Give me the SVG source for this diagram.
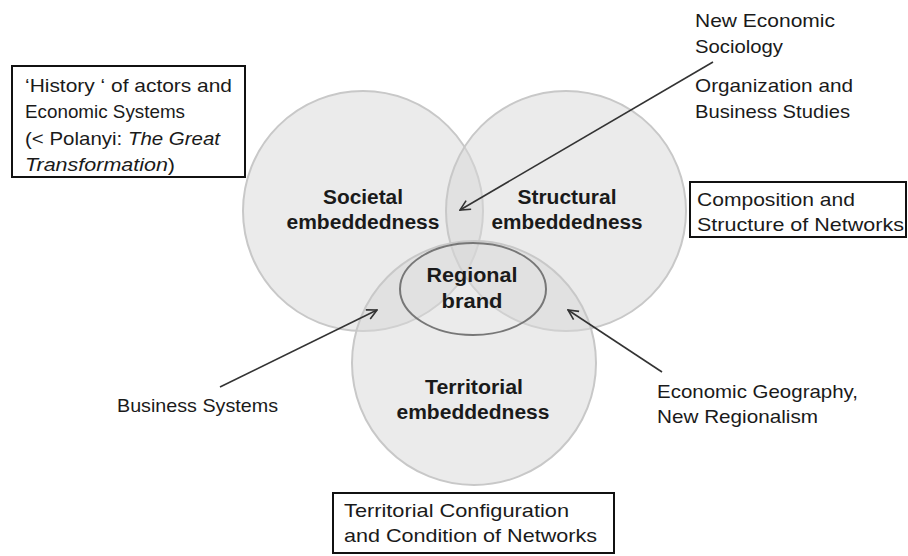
<svg xmlns="http://www.w3.org/2000/svg" width="908" height="556" viewBox="0 0 908 556">
<style>
.c{fill:#d8d8d8;fill-opacity:0.5;stroke:#c8c8c8;stroke-width:2}
.lbl{font-family:"Liberation Sans",Arial,sans-serif;font-size:20px;font-weight:bold;fill:#1a1a1a;text-anchor:middle}
.t{font-family:"Liberation Sans",Arial,sans-serif;font-size:19px;fill:#1a1a1a}
.box{fill:#fff;stroke:#111;stroke-width:2}
.arr{stroke:#333;stroke-width:1.6;fill:none}
</style>
<defs>
<marker id="ah" viewBox="0 0 12 12" refX="11" refY="6" markerWidth="12" markerHeight="12" markerUnits="userSpaceOnUse" orient="auto">
<path d="M1,1 L11,6 L1,11" fill="none" stroke="#333" stroke-width="1.6"/>
</marker>
</defs>
<rect width="908" height="556" fill="#fff"/>
<g id="societal">
<circle class="c" cx="363" cy="211" r="120"/>
<text class="lbl" x="363" y="204" textLength="80" lengthAdjust="spacingAndGlyphs">Societal</text>
<text class="lbl" x="363" y="229" textLength="153" lengthAdjust="spacingAndGlyphs">embeddedness</text>
</g>
<g id="structural">
<circle class="c" cx="566" cy="211" r="120"/>
<text class="lbl" x="567" y="204" textLength="99" lengthAdjust="spacingAndGlyphs">Structural</text>
<text class="lbl" x="567" y="229" textLength="151" lengthAdjust="spacingAndGlyphs">embeddedness</text>
</g>
<g id="territorial">
<circle class="c" cx="474" cy="363" r="122"/>
<text class="lbl" x="474" y="394" textLength="98" lengthAdjust="spacingAndGlyphs">Territorial</text>
<text class="lbl" x="473" y="419" textLength="153" lengthAdjust="spacingAndGlyphs">embeddedness</text>
</g>
<g id="regional-brand">
<ellipse cx="473" cy="289" rx="73" ry="46" fill="none" stroke="#777" stroke-width="2"/>
<text class="lbl" x="472" y="282" textLength="91" lengthAdjust="spacingAndGlyphs">Regional</text>
<text class="lbl" x="472" y="308" textLength="61" lengthAdjust="spacingAndGlyphs">brand</text>
</g>
<g id="history">
<rect class="box" x="12" y="66" width="233" height="111"/>
<text class="t" x="25" y="92" textLength="207" lengthAdjust="spacingAndGlyphs">‘History ‘ of actors and</text>
<text class="t" x="25" y="118" textLength="160" lengthAdjust="spacingAndGlyphs">Economic Systems</text>
<text class="t" x="25" y="145" textLength="195" lengthAdjust="spacingAndGlyphs">(&lt; Polanyi: <tspan font-style="italic">The Great</tspan></text>
<text class="t" x="25" y="171" textLength="150" lengthAdjust="spacingAndGlyphs"><tspan font-style="italic">Transformation</tspan>)</text>
</g>
<g id="composition">
<rect class="box" x="690" y="182" width="216" height="55"/>
<text class="t" x="697" y="206" textLength="158" lengthAdjust="spacingAndGlyphs">Composition and</text>
<text class="t" x="697" y="231" textLength="207" lengthAdjust="spacingAndGlyphs">Structure of Networks</text>
</g>
<g id="territorial-config">
<rect class="box" x="333" y="493" width="281" height="60"/>
<text class="t" x="344" y="517" textLength="225" lengthAdjust="spacingAndGlyphs">Territorial Configuration</text>
<text class="t" x="344" y="542" textLength="253" lengthAdjust="spacingAndGlyphs">and Condition of Networks</text>
</g>
<g id="new-economic-sociology">
<text class="t" x="695" y="27" textLength="140" lengthAdjust="spacingAndGlyphs">New Economic</text>
<text class="t" x="695" y="53" textLength="88" lengthAdjust="spacingAndGlyphs">Sociology</text>
</g>
<g id="organization">
<text class="t" x="695" y="92" textLength="158" lengthAdjust="spacingAndGlyphs">Organization and</text>
<text class="t" x="695" y="118" textLength="155" lengthAdjust="spacingAndGlyphs">Business Studies</text>
</g>
<g id="business-systems">
<text class="t" x="117" y="412" textLength="161" lengthAdjust="spacingAndGlyphs">Business Systems</text>
</g>
<g id="economic-geography">
<text class="t" x="657" y="398" textLength="201" lengthAdjust="spacingAndGlyphs">Economic Geography,</text>
<text class="t" x="657" y="423" textLength="161" lengthAdjust="spacingAndGlyphs">New Regionalism</text>
</g>
<g id="connectors">
<line class="arr" x1="713" y1="62" x2="460" y2="210" marker-end="url(#ah)"/>
<line class="arr" x1="220" y1="387" x2="377" y2="310" marker-end="url(#ah)"/>
<line class="arr" x1="662" y1="372" x2="568" y2="310" marker-end="url(#ah)"/>
</g>
</svg>
